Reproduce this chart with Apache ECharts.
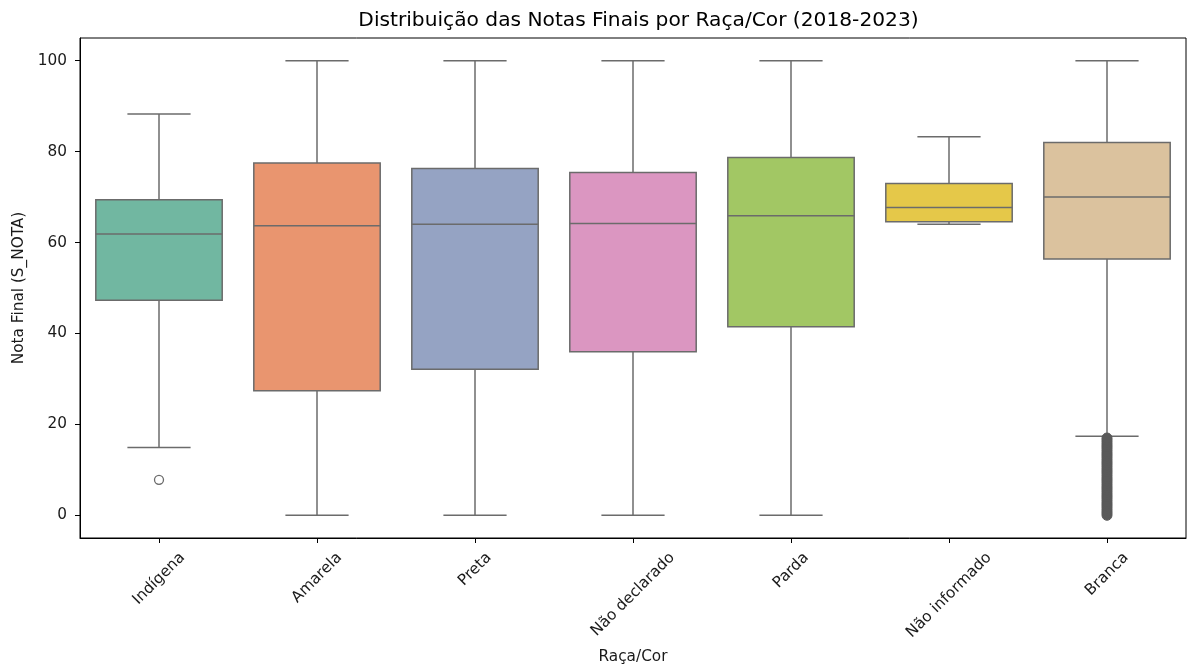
<!DOCTYPE html>
<html><head><meta charset="utf-8">
<script src="https://cdn.jsdelivr.net/npm/echarts@6/dist/echarts.min.js"></script>
<style>html,body{margin:0;padding:0;background:#fff}#c{width:1187px;height:668px}</style>
</head><body><div id="c"></div>
<script>
// ---- data ----
const categories = ['Indígena', 'Amarela', 'Preta', 'Não declarado', 'Parda', 'Não informado', 'Branca'];
const whiskerLow  = [14.9, 0, 0, 0, 0, 64.0, 17.4];
const q1          = [47.3, 27.4, 32.1, 36.0, 41.5, 64.6, 56.4];
const median      = [61.9, 63.7, 64.0, 64.2, 65.9, 67.7, 70.0];
const q3          = [69.4, 77.5, 76.3, 75.4, 78.7, 73.0, 82.0];
const whiskerHigh = [88.3, 100, 100, 100, 100, 83.3, 100];
const outliersIndigena = [7.8];
const outliersBranca = [0, 0.5, 1, 1.5, 2, 2.5, 3, 3.5, 4, 4.5, 5, 5.5, 6, 6.5, 7, 7.5, 8, 8.5,
  9, 9.5, 10, 10.5, 11, 11.5, 12, 12.5, 13, 13.5, 14, 14.5, 15, 15.5, 16, 16.5, 17];
const yTicks = [0, 20, 40, 60, 80, 100];

// ---- style ----
const palette = ['#71b7a1', '#e9956f', '#95a3c3', '#db96c1', '#a2c764', '#e5c849', '#dbc29e'];
const LINE = '#6b6b6b';
const FONT = 'DejaVu Sans';
const LABEL_SIZE = 15.3;
const TEXT = '#1a1a1a';
const TEXT_H = LABEL_SIZE * 1.17;

// rotated labels centred under their tick (like matplotlib rotation=45, ha='center')
const ctx = document.createElement('canvas').getContext('2d');
ctx.font = LABEL_SIZE + 'px "' + FONT + '"';
const xData = categories.map(c => {
  const w = ctx.measureText(c).width;
  const k = (w + TEXT_H) / 2;
  return { value: c, textStyle: { align: 'center', verticalAlign: 'top', lineHeight: k, padding: [0, k, 0, 0] } };
});

const boxData = categories.map((c, i) => [i, whiskerLow[i], q1[i], median[i], q3[i], whiskerHigh[i]]);

const chart = echarts.init(document.getElementById('c'), null, { renderer: 'canvas' });
chart.setOption({
  animation: false,
  backgroundColor: '#fff',
  title: {
    text: 'Distribuição das Notas Finais por Raça/Cor (2018-2023)',
    left: 633.5, top: 6, textAlign: 'center',
    textStyle: { fontFamily: FONT, fontSize: 20.2, fontWeight: 'normal', color: '#000' }
  },
  grid: {
    left: 80, right: 1, top: 38, bottom: 130,
    show: true, borderColor: '#000', borderWidth: 1, backgroundColor: 'transparent',
    outerBoundsMode: 'none', containLabel: false
  },
  xAxis: {
    type: 'category', data: xData, boundaryGap: true,
    name: 'Raça/Cor', nameLocation: 'middle', nameGap: 112, nameMoveOverlap: false,
    nameTextStyle: { fontFamily: FONT, fontSize: LABEL_SIZE, color: TEXT },
    axisLine: { show: true, onZero: false, lineStyle: { color: '#000', width: 1 } },
    axisTick: { show: true, alignWithLabel: true, length: 5, lineStyle: { color: '#000' } },
    axisLabel: {
      interval: 0, rotate: 45, margin: 11,
      fontFamily: FONT, fontSize: LABEL_SIZE, color: TEXT, hideOverlap: false
    },
    splitLine: { show: false }
  },
  yAxis: {
    type: 'value', min: -5, max: 105,
    name: 'Nota Final (S_NOTA)', nameLocation: 'middle', nameGap: 53, nameRotate: 90, nameMoveOverlap: false,
    nameTextStyle: { fontFamily: FONT, fontSize: LABEL_SIZE, color: TEXT },
    axisLine: { show: true, onZero: false, lineStyle: { color: '#000', width: 1 } },
    axisTick: { show: true, length: 5, customValues: yTicks, lineStyle: { color: '#000' } },
    axisLabel: { customValues: yTicks, margin: 13, fontFamily: FONT, fontSize: LABEL_SIZE, color: TEXT },
    splitLine: { show: false }
  },
  series: [
    {
      type: 'custom',
      data: boxData,
      encode: { x: 0, y: [1, 2, 3, 4, 5] },
      z: 2,
      renderItem: (params, api) => {
        const i = api.value(0);
        const lo = api.coord([i, api.value(1)]);
        const b1 = api.coord([i, api.value(2)]);
        const m = api.coord([i, api.value(3)]);
        const b3 = api.coord([i, api.value(4)]);
        const hi = api.coord([i, api.value(5)]);
        const band = api.size([1, 0])[0];
        const half = band * 0.4, cap = band * 0.2;
        const x = lo[0];
        const ls = { stroke: LINE, lineWidth: 1.5, fill: null };
        return {
          type: 'group',
          children: [
            { type: 'line', shape: { x1: x, y1: hi[1], x2: x, y2: b3[1] }, style: ls },
            { type: 'line', shape: { x1: x, y1: b1[1], x2: x, y2: lo[1] }, style: ls },
            { type: 'line', shape: { x1: x - cap, y1: hi[1], x2: x + cap, y2: hi[1] }, style: ls },
            { type: 'line', shape: { x1: x - cap, y1: lo[1], x2: x + cap, y2: lo[1] }, style: ls },
            { type: 'rect', shape: { x: x - half, y: b3[1], width: 2 * half, height: b1[1] - b3[1] },
              style: { fill: palette[params.dataIndex], stroke: LINE, lineWidth: 1.5 } },
            { type: 'line', shape: { x1: x - half, y1: m[1], x2: x + half, y2: m[1] }, style: ls }
          ]
        };
      }
    },
    {
      type: 'scatter', z: 3, symbol: 'circle', symbolSize: 9,
      data: outliersIndigena.map(v => ['Indígena', v]),
      itemStyle: { color: 'rgba(255,255,255,0)', borderColor: LINE, borderWidth: 1.3, opacity: 1 }
    },
    {
      type: 'scatter', z: 3, symbol: 'circle', symbolSize: 10,
      data: outliersBranca.map(v => ['Branca', v]),
      itemStyle: { color: '#595959', borderColor: '#595959', borderWidth: 1, opacity: 1 }
    }
  ]
});
</script>
</body></html>
